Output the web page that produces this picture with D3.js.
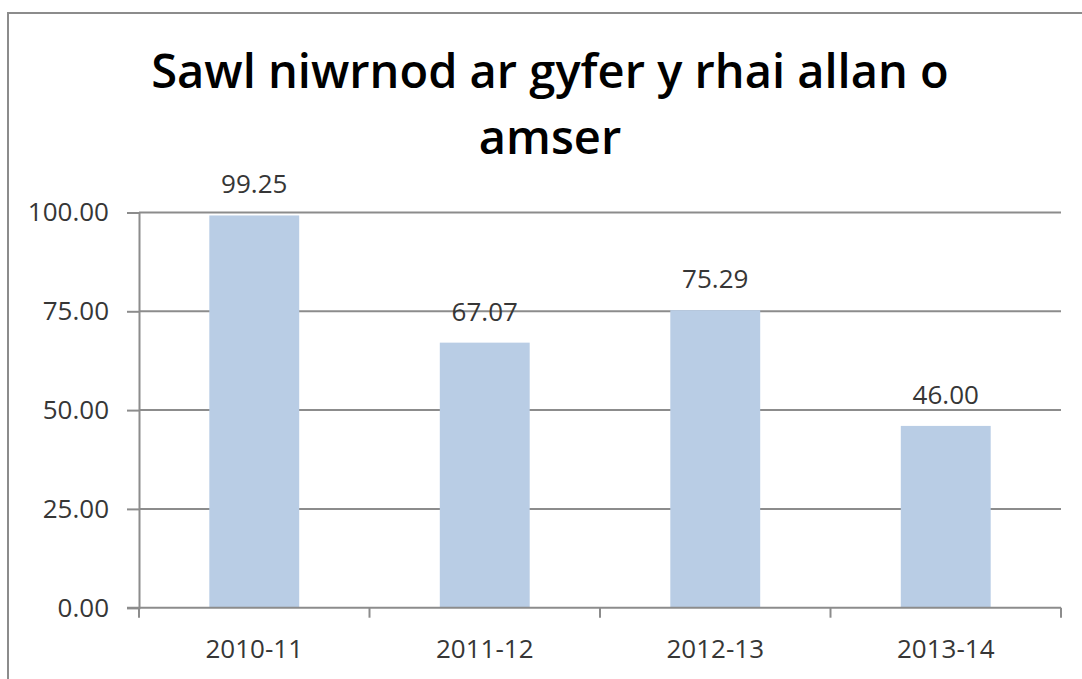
<!DOCTYPE html>
<html>
<head>
<meta charset="utf-8">
<script src="https://cdn.jsdelivr.net/npm/d3@7"></script>
<style>
  body { margin: 0; background: #fff; }
  text { font-family: "Open Sans", "Noto Sans", sans-serif; fill: #363636; }
</style>
</head>
<body>
<div id="chart"></div>
<script>
(function () {

  // Data

  var categories = ["2010-11", "2011-12", "2012-13", "2013-14"]
  var values = [99.25, 67.07, 75.29, 46.00]
  var yTicks = [0, 25, 50, 75, 100]
  var titleLines = ["Sawl niwrnod ar gyfer y rhai allan o", "amser"]

  var width = 1082,
      height = 679

  var plot = { left: 139, right: 1061, top: 212.5, bottom: 607.7 }

  var svg = d3.select("#chart").append("svg")
      .attr("width", width)
      .attr("height", height)

  // Chart border (runs off the right and bottom edges)

  svg.append("rect")
    .attr("x", 8)
    .attr("y", 13)
    .attr("width", 1200)
    .attr("height", 800)
    .attr("fill", "none")
    .attr("stroke", "#8c8c8c")
    .attr("stroke-width", 2)

  // Title

  svg.selectAll(".title")
    .data(titleLines)
    .enter().append("text")
    .attr("class", "title")
    .attr("x", 550)
    .attr("y", function(d, i){ return 88 + i * 66 })
    .attr("text-anchor", "middle")
    .style("font-size", "47px")
    .style("font-weight", 600)
    .style("fill", "#000")
    .text(function(d){ return d })

  // Scales

  var x = d3.scaleBand()
    .domain(categories)
    .range([plot.left, plot.right])
    .paddingInner(0.61)
    .paddingOuter(0.305)

  var y = d3.scaleLinear()
    .domain([0, 100])
    .range([plot.bottom, plot.top])

  // Gridlines

  svg.selectAll(".grid")
    .data(yTicks.slice(1))
    .enter().append("line")
    .attr("class", "grid")
    .attr("x1", plot.left)
    .attr("x2", plot.right)
    .attr("y1", function(d){ return y(d) })
    .attr("y2", function(d){ return y(d) })
    .attr("stroke", "#8c8c8c")
    .attr("stroke-width", 2)

  // Bars

  svg.selectAll(".bar")
    .data(values)
    .enter().append("rect")
    .attr("class", "bar")
    .attr("x", function(d, i){ return x(categories[i]) })
    .attr("width", x.bandwidth())
    .attr("y", function(d){ return y(d) })
    .attr("height", function(d){ return y(0) - y(d) })
    .attr("fill", "#b9cde5")

  // Value labels

  svg.selectAll(".value")
    .data(values)
    .enter().append("text")
    .attr("class", "value")
    .attr("x", function(d, i){ return x(categories[i]) + x.bandwidth() / 2 })
    .attr("y", function(d){ return y(d) - 22 })
    .attr("text-anchor", "middle")
    .style("font-size", "26px")
    .text(function(d){ return d.toFixed(2) })

  // Y axis

  var yAxis = svg.append("g")
    .attr("transform", "translate(" + plot.left + ",0)")
    .call(d3.axisLeft(y).tickValues(yTicks).tickSize(12).tickPadding(18)
      .tickFormat(function(d){ return d.toFixed(2) }))

  yAxis.select(".domain").attr("stroke", "#8c8c8c").attr("stroke-width", 2)
  yAxis.selectAll(".tick line").attr("stroke", "#8c8c8c").attr("stroke-width", 2)
  yAxis.selectAll(".tick text")
    .style("font-size", "26px")
    .style("font-family", "'Open Sans', sans-serif")
    .attr("fill", "#363636")

  // X axis (ticks between categories)

  var boundaries = [plot.left].concat(categories.map(function(c){
    return x(c) + x.bandwidth() / 2 + x.step() / 2
  }))

  svg.append("line")
    .attr("x1", plot.left - 12)
    .attr("x2", plot.right)
    .attr("y1", plot.bottom)
    .attr("y2", plot.bottom)
    .attr("stroke", "#8c8c8c")
    .attr("stroke-width", 2)

  svg.selectAll(".xtick")
    .data(boundaries)
    .enter().append("line")
    .attr("class", "xtick")
    .attr("x1", function(d){ return d })
    .attr("x2", function(d){ return d })
    .attr("y1", plot.bottom)
    .attr("y2", plot.bottom + 10)
    .attr("stroke", "#8c8c8c")
    .attr("stroke-width", 2)

  svg.selectAll(".xlabel")
    .data(categories)
    .enter().append("text")
    .attr("class", "xlabel")
    .attr("x", function(d){ return x(d) + x.bandwidth() / 2 })
    .attr("y", 658)
    .attr("text-anchor", "middle")
    .style("font-size", "26px")
    .text(function(d){ return d })

})()
</script>
</body>
</html>
